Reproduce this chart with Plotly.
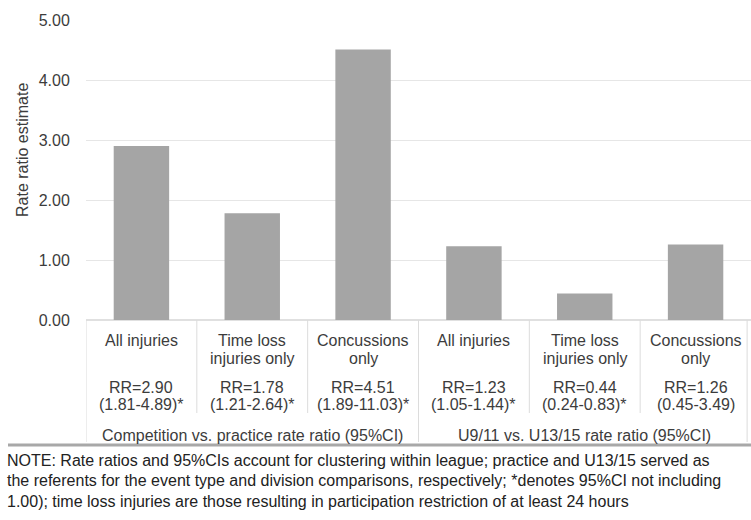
import plotly.graph_objects as go

categories = ["c1", "c2", "c3", "c4", "c5", "c6"]
cat_line1 = ["All injuries", "Time loss", "Concussions", "All injuries", "Time loss", "Concussions"]
cat_line2 = ["", "injuries only", "only", "", "injuries only", "only"]
rr_values = [2.90, 1.78, 4.51, 1.23, 0.44, 1.26]
ci_labels = ["(1.81-4.89)*", "(1.21-2.64)*", "(1.89-11.03)*", "(1.05-1.44)*", "(0.24-0.83)*", "(0.45-3.49)"]
groups = ["Competition vs. practice rate ratio (95%CI)", "U9/11 vs. U13/15 rate ratio (95%CI)"]
y_ticks = [0, 1, 2, 3, 4, 5]
note_lines = [
    "NOTE: Rate ratios and 95%CIs account for clustering within league; practice and U13/15 served as",
    "the referents for the event type and division comparisons, respectively; *denotes 95%CI not including",
    "1.00); time loss injuries are those resulting in participation restriction of at least 24 hours",
]

W, H = 751, 520
L, R, T, B = 86, 0, 20, 200
PH = H - T - B
PW = W - L - R
FONT = "Arial, Liberation Sans, sans-serif"
TXT = "#3c3c3c"


def py(ypix):
    return (H - B - ypix) / PH


def px(xpix):
    return (xpix - L) / PW


fig = go.Figure()
fig.add_trace(go.Bar(x=categories, y=rr_values, marker=dict(color="#a5a5a5", line=dict(width=0)),
                     hoverinfo="skip"))

ann = []
shapes = []
for i, c in enumerate(categories):
    ann.append(dict(x=c, xref="x", y=py(340), yref="paper", text=cat_line1[i], showarrow=False,
                    font=dict(size=16, color=TXT, family=FONT), yanchor="middle"))
    if cat_line2[i]:
        ann.append(dict(x=c, xref="x", y=py(359), yref="paper", text=cat_line2[i], showarrow=False,
                        font=dict(size=16, color=TXT, family=FONT), yanchor="middle"))
    ann.append(dict(x=c, xref="x", y=py(387), yref="paper", text="RR=%.2f" % rr_values[i], showarrow=False,
                    font=dict(size=16, color=TXT, family=FONT), yanchor="middle"))
    ann.append(dict(x=c, xref="x", y=py(405), yref="paper", text=ci_labels[i], showarrow=False,
                    font=dict(size=16, color=TXT, family=FONT), yanchor="middle"))

for g, name in enumerate(groups):
    ann.append(dict(x=3 * g + 1, xref="x", y=py(435), yref="paper", text=name, showarrow=False,
                    font=dict(size=16, color=TXT, family=FONT), yanchor="middle"))

for k, line in enumerate(note_lines):
    ann.append(dict(x=px(5), xref="paper", y=py(460 + 20.5 * k), yref="paper", text=line, showarrow=False,
                    xanchor="left", yanchor="middle", font=dict(size=16, color="#222222", family=FONT)))

ann.append(dict(x=px(22), xref="paper", y=py(150), yref="paper", text="Rate ratio estimate", textangle=-90,
                showarrow=False, xanchor="center", yanchor="middle",
                font=dict(size=16, color=TXT, family=FONT)))

line_col = "#dcdcdc"
# vertical separators
for k in range(7):
    xpos = k - 0.5
    if k == 6:
        xpos = 5.465
    full = k in (0, 3, 6)
    shapes.append(dict(type="line", xref="x", yref="paper", x0=xpos, x1=xpos, y0=py(320),
                       y1=py(442 if full else 413), line=dict(color=line_col, width=1)))
# bottom thick line
shapes.append(dict(type="line", xref="paper", yref="paper", x0=px(8), x1=px(751), y0=py(445), y1=py(445),
                   line=dict(color="#a8a8a8", width=3)))

fig.update_layout(
    width=W, height=H, margin=dict(l=L, r=R, t=T, b=B),
    paper_bgcolor="white", plot_bgcolor="white",
    bargap=0.5, showlegend=False,
    annotations=ann, shapes=shapes,
    xaxis=dict(showticklabels=False, showgrid=False, range=[-0.5, 5.5], fixedrange=True, showline=False),
    yaxis=dict(range=[0, 5], tickvals=y_ticks, ticktext=["%.2f" % v for v in y_ticks],
               gridcolor="#e6e6e6", zeroline=True, zerolinecolor="#e0e0e0", showline=False,
               ticks="outside", ticklen=12, tickcolor="rgba(0,0,0,0)",
               tickfont=dict(size=16, color=TXT, family=FONT)),
)

fig.write_html("out.html", config={"displayModeBar": False},
               post_script="document.body.style.margin='0';")
